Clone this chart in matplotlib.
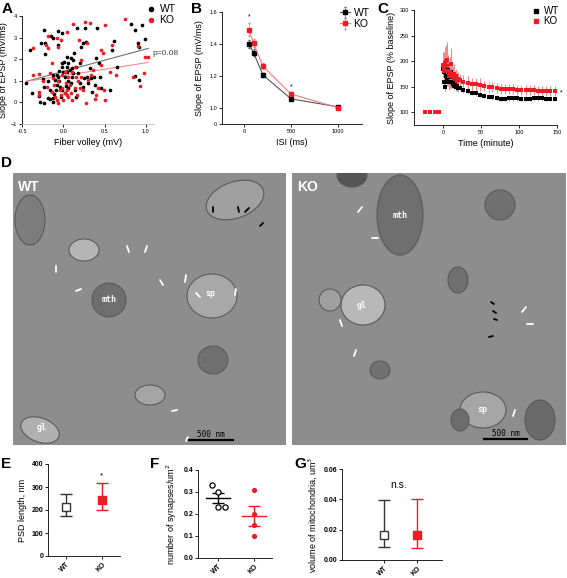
import matplotlib
matplotlib.use("Agg")
import matplotlib.pyplot as plt
from matplotlib.patches import Ellipse
import numpy as np

plt.rcParams['font.family'] = ['Liberation Sans', 'DejaVu Sans']

W, H = 567, 578
RED = '#ec1c24'
PINK = '#f4898c'

# ---------------- data ----------------
# Panel A: fiber volley vs slope
a_wt_x = [-0.45,-0.38,-0.40,-0.23,-0.27,-0.22,-0.22,-0.15,-0.12,-0.06,-0.02,-0.06,-0.24,-0.23,-0.23,-0.19,
          -0.18,-0.16,-0.12,-0.11,-0.10,-0.09,-0.08,-0.06,-0.05,-0.04,-0.03,-0.02,-0.01,0.00,0.01,0.02,
          0.03,0.04,0.05,0.06,0.06,0.08,0.09,0.10,0.11,0.12,0.13,0.14,0.15,0.16,0.17,0.18,0.20,0.22,
          0.24,0.26,0.25,0.27,0.29,0.30,0.32,0.34,0.35,0.37,0.39,0.40,0.41,0.43,0.44,0.46,0.57,0.59,
          0.62,0.65,0.82,0.87,0.87,0.95,0.91,0.92,0.99,0.92,-0.07,-0.05,-0.02,0.02,0.06,0.09,0.12,0.20,
          0.24,0.04,-0.13,-0.16,-0.29,-0.28,-0.13]
a_wt_y = [0.89,0.43,2.42,3.37,2.76,2.76,2.22,3.06,3.00,3.31,3.23,2.68,1.07,0.70,-0.03,0.20,
          0.97,0.15,0.01,0.38,1.04,0.58,0.81,1.19,1.47,0.73,0.27,1.81,1.65,1.42,1.88,1.19,
          0.76,1.65,1.42,1.81,0.97,1.50,2.04,1.57,1.19,1.96,2.27,0.58,1.65,0.27,3.46,1.34,1.81,2.57,
          2.76,3.46,1.11,2.80,1.16,0.89,1.57,1.11,0.50,1.19,0.81,2.04,3.46,1.81,1.19,0.65,0.58,2.42,
          2.85,1.65,3.65,3.34,1.24,3.57,2.76,2.57,2.93,1.04,1.27,0.97,0.58,0.43,0.65,0.89,1.34,0.89,
          0.73,2.12,1.27,0.58,0.30,0.04,0.20]
a_ko_x = [-0.37,-0.37,-0.29,-0.29,-0.24,-0.21,-0.19,-0.18,-0.14,-0.11,-0.07,-0.06,-0.03,-0.10,-0.07,-0.06,
          -0.03,-0.01,0.00,0.02,0.03,0.04,0.05,0.06,0.08,0.09,0.10,0.12,0.14,0.15,0.17,0.18,0.19,0.20,
          0.22,0.24,0.26,0.27,0.29,0.30,0.33,0.34,0.36,0.38,0.40,0.42,0.46,0.48,0.46,0.49,0.51,0.50,
          0.57,0.59,0.64,0.75,0.85,0.91,0.93,0.98,0.99,1.03,-0.16,-0.12,-0.06,-0.02,0.02,0.06,0.10,0.14,
          0.22,-0.20,-0.14,-0.04,0.04,-0.29]
a_ko_y = [2.50,1.27,1.31,0.50,0.97,2.68,3.06,2.50,1.81,0.81,2.96,2.57,2.91,0.27,0.12,-0.03,
          0.35,0.65,0.12,0.43,0.89,3.26,0.58,0.27,0.81,0.43,0.12,3.65,0.65,1.19,0.35,0.97,2.91,0.65,
          1.19,0.58,3.72,-0.03,2.76,1.04,3.68,1.27,1.50,0.15,0.35,0.65,2.42,2.27,1.73,0.58,3.57,0.12,
          1.42,2.65,1.27,3.88,1.19,2.60,0.76,1.35,2.11,2.08,1.34,1.11,0.97,1.27,1.42,1.19,1.42,1.65,
          1.96,0.73,0.50,0.58,0.35,0.35]
a_fit_x = [-0.45, 1.03]
a_fit_wt = [0.97, 2.50]
a_fit_ko = [0.97, 1.85]

# Panel B: paired-pulse
b_isi = [50, 100, 200, 500, 1000]
b_wt = [1.40, 1.345, 1.205, 1.055, 1.005]
b_wt_err = [0.025, 0.02, 0.015, 0.01, 0.005]
b_ko = [1.49, 1.405, 1.26, 1.085, 1.00]
b_ko_err = [0.04, 0.025, 0.02, 0.012, 0.005]
b_star_x = [50, 500]
b_star_y = [1.57, 1.13]

# Panel C: LTP time course
c_t_base = [-23, -17, -11, -5]
c_base = [100, 100, 100, 100]
c_t = list(range(0, 21)) + [22,27,33,38,44,49,54,60,65,71,76,81,87,92,98,103,109,114,120,125,130,136,141,147]
c_wt = [185,178,160,150,170,160,165,182,175,160,168,178,160,155,158,152,155,150,152,150,148,
        148,143,141,138,137,134,132,130,129,128,126,126,127,127,127,126,126,126,127,127,127,126,126,126]
c_wt_err = [8]*21 + [5]*24
c_ko = [193,181,188,197,200,191,202,181,171,178,195,171,172,168,175,167,165,170,162,165,165,
        163,160,158,155,155,154,152,150,149,147,145,145,145,145,144,144,143,143,143,141,141,141,141,141]
c_ko_err = [25,28,30,30,32,30,35,30,28,30,30,25,22,20,20,18,15,15,15,14,14] + [12]*6 + [10]*18

# Panel E-G
groups = ['WT', 'KO']
e_mean = [215, 242]
e_low = [172, 198]
e_high = [268, 318]
f_wt_pts = [0.33, 0.30, 0.23, 0.23]
f_ko_pts = [0.31, 0.20, 0.15, 0.10]
f_wt_jit = [-0.15, 0.0, 0.0, 0.2]
f_ko_jit = [0.0, 0.0, 0.0, 0.0]
f_mean = [0.272, 0.19]
f_sem = [0.023, 0.045]
g_mean = [0.0165, 0.0165]
g_low = [0.0085, 0.008]
g_high = [0.0395, 0.0405]

# ---------------- layout helpers ----------------
fig = plt.figure(figsize=(W/100, H/100), dpi=100)

def ax_px(x0, y0, x1, y1):
    return fig.add_axes([x0/W, 1-y1/H, (x1-x0)/W, (y1-y0)/H])

def letter(x, y, s):
    fig.text(x/W, 1-y/H, s, fontsize=11, fontweight='bold', va='top', ha='left')

def style(ax, tfs=4.5, bold=False):
    for s in ['top', 'right']:
        ax.spines[s].set_visible(False)
    for s in ['left', 'bottom']:
        ax.spines[s].set_linewidth(0.6)
    ax.tick_params(labelsize=tfs, width=0.6, length=2, pad=1.5)
    if bold:
        for lab in ax.get_yticklabels() + ax.get_xticklabels():
            lab.set_fontweight('bold')

# ---------------- Panel A ----------------
axA = ax_px(22, 16, 154, 124)
axA.scatter(a_wt_x, a_wt_y, s=7, c='black', linewidths=0, zorder=3)
axA.scatter(a_ko_x, a_ko_y, s=7, c=RED, linewidths=0, zorder=3)
axA.plot(a_fit_x, a_fit_wt, color='#707070', lw=0.8, zorder=2)
axA.plot(a_fit_x, a_fit_ko, color='#f08a8a', lw=0.8, zorder=2)
axA.set_xlim(-0.5, 1.1)
axA.set_ylim(-1, 4)
axA.set_xticks([-0.5, 0.0, 0.5, 1.0])
axA.set_xticklabels(['-0.5', '0.0', '0.5', '1.0'])
axA.set_yticks([-1, 0, 1, 2, 3, 4])
style(axA, 4)
axA.spines['bottom'].set_color('#bbbbbb')
axA.text(1.08, 2.27, 'p=0.08', fontsize=6, color='#444444', va='center', ha='left')
axA.set_xlabel('Fiber volley (mV)', fontsize=6.5, labelpad=3)
axA.set_ylabel('Slope of EPSP (mV/ms)', fontsize=6.5, labelpad=2)
axA.scatter([], [], s=9, c='black', label='WT')
axA.scatter([], [], s=9, c=RED, label='KO')
axA.legend(loc='upper left', bbox_to_anchor=(148/W, 1-4/H), bbox_transform=fig.transFigure,
           frameon=False, fontsize=7.5, handlelength=0.6, handletextpad=0.5, labelspacing=0.05,
           borderpad=0, borderaxespad=0)

# ---------------- Panel B ----------------
axB = ax_px(222, 12, 362, 124)
axB.errorbar(b_isi, b_wt, yerr=b_wt_err, color='#555555', marker='s', ms=3.2, mfc='black', mec='black',
             lw=0.8, elinewidth=0.5, capsize=1, label='WT', zorder=3)
axB.errorbar(b_isi, b_ko, yerr=b_ko_err, color='#f27a7e', marker='s', ms=3.2, mfc=RED, mec=RED,
             lw=0.8, elinewidth=0.5, capsize=1, label='KO', zorder=4)
for sx, sy in zip(b_star_x, b_star_y):
    axB.text(sx, sy, '*', fontsize=5, ha='center', va='center')
axB.set_xlim(-237, 1260)
axB.set_ylim(0.897, 1.6)
axB.set_xticks([0, 500, 1000])
axB.set_yticks([0.897, 1.0, 1.2, 1.4, 1.6])
axB.set_yticklabels(['0', '1.0', '1.2', '1.4', '1.6'])
style(axB, 4)
axB.set_xlabel('ISI (ms)', fontsize=6.5, labelpad=3)
axB.set_ylabel('Slope of EPSP (mV/ms)', fontsize=6.5, labelpad=4)
axB.legend(loc='upper left', bbox_to_anchor=(340/W, 1-8/H), bbox_transform=fig.transFigure,
           frameon=False, fontsize=7.5, handlelength=1.0, handletextpad=0.3, labelspacing=0.1,
           borderpad=0, borderaxespad=0)

# ---------------- Panel C ----------------
axC = ax_px(414, 10, 557, 125)
axC.errorbar(c_t, c_ko, yerr=c_ko_err, fmt='none', ecolor=PINK, elinewidth=0.8, zorder=2)
axC.errorbar(c_t, c_wt, yerr=c_wt_err, fmt='none', ecolor='#999999', elinewidth=0.6, zorder=2)
axC.plot(c_t, c_wt, 's', ms=2.4, color='black', mew=0, zorder=3)
axC.plot(c_t, c_ko, 's', ms=2.4, color=RED, mew=0, zorder=4)
axC.plot(c_t_base, c_base, 's', ms=2.4, color='black', mew=0, zorder=3)
axC.plot(c_t_base, c_base, 's', ms=2.4, color=RED, mew=0, zorder=4)
axC.set_xlim(-38, 150)
axC.set_ylim(75, 300)
axC.set_xticks([0, 50, 100, 150])
axC.set_yticks([100, 150, 200, 250, 300])
style(axC, 4)
axC.text(156, 137, '*', fontsize=5, ha='center', va='center', clip_on=False)
axC.set_xlabel('Time (minute)', fontsize=6.5, labelpad=3)
axC.set_ylabel('Slope of EPSP (% baseline)', fontsize=6.5, labelpad=3)
axC.plot([], [], 's', ms=3, color='black', label='WT')
axC.plot([], [], 's', ms=3, color=RED, label='KO')
axC.legend(loc='upper left', bbox_to_anchor=(533/W, 1-6/H), bbox_transform=fig.transFigure,
           frameon=False, fontsize=7, handlelength=0.6, handletextpad=0.5, labelspacing=0.05,
           borderpad=0, borderaxespad=0)

# ---------------- Panel D (EM images, schematic) ----------------
def em_panel(x0, y0, x1, y1, label, blobs, labels, white_marks, black_marks, bar):
    ax = ax_px(x0, y0, x1, y1)
    w, h = x1 - x0, y1 - y0
    ax.set_xlim(0, w)
    ax.set_ylim(h, 0)
    ax.set_facecolor('#8d8d8d')
    for (cx, cy, ew, eh, ang, col) in blobs:
        ax.add_patch(Ellipse((cx - x0, cy - y0), ew, eh, angle=ang, facecolor=col,
                             edgecolor='#5a5a5a', lw=0.8))
    ax.text(5, 7, label, color='white', fontsize=10, fontweight='bold', va='top', ha='left')
    for (tx, ty, s) in labels:
        ax.text(tx - x0, ty - y0, s, color='white', fontsize=6, family='DejaVu Sans Mono',
                fontweight='bold', ha='center', va='center')
    for (mx, my, dx, dy) in white_marks:
        ax.plot([mx - x0, mx - x0 + dx], [my - y0, my - y0 + dy], color='white', lw=1.3,
                solid_capstyle='round')
    for (mx, my, dx, dy) in black_marks:
        ax.plot([mx - x0, mx - x0 + dx], [my - y0, my - y0 + dy], color='black', lw=1.3,
                solid_capstyle='round')
    bx0, bx1, by = bar
    ax.plot([bx0 - x0, bx1 - x0], [by - y0, by - y0], color='black', lw=1.6)
    ax.text((bx0 + bx1) / 2 - x0, by - y0 - 1, '500 nm', fontsize=5.5, color='black',
            ha='center', va='bottom', family='DejaVu Sans Mono')
    ax.set_xticks([])
    ax.set_yticks([])
    for s in ax.spines.values():
        s.set_visible(False)
    return ax

em_panel(13, 173, 286, 445, 'WT',
         blobs=[(109, 300, 34, 34, 0, '#6e6e6e'), (212, 296, 50, 44, 0, '#a8a8a8'),
                (84, 250, 30, 22, 0, '#b5b5b5'), (40, 430, 40, 24, 20, '#b0b0b0'),
                (213, 360, 30, 28, 0, '#707070'), (235, 200, 60, 36, -20, '#a0a0a0'),
                (150, 395, 30, 20, 0, '#a5a5a5'), (30, 220, 30, 50, 0, '#7c7c7c')],
         labels=[(109, 300, 'mth'), (210, 294, 'sp'), (42, 427, 'gl')],
         white_marks=[(56, 266, 0, 6), (76, 291, 5, -2), (127, 246, 2, 6), (147, 246, -2, 6),
                      (160, 280, 3, 5), (186, 275, -1, 7), (196, 293, 4, 4), (236, 289, -1, 6),
                      (172, 411, 5, -1), (186, 441, 2, -4)],
         black_marks=[(213, 207, 0, 5), (238, 207, 1, 5), (245, 212, 4, -4), (260, 226, 3, -3)],
         bar=(189, 233, 440))

em_panel(292, 173, 566, 445, 'KO',
         blobs=[(400, 215, 46, 80, 0, '#6f6f6f'), (363, 305, 44, 40, 0, '#b8b8b8'),
                (352, 175, 30, 24, 0, '#555555'), (500, 205, 30, 30, 0, '#707070'),
                (458, 280, 20, 26, 0, '#707070'), (330, 300, 22, 22, 0, '#a0a0a0'),
                (483, 410, 46, 36, 0, '#a6a6a6'), (540, 420, 30, 40, 0, '#6a6a6a'),
                (380, 370, 20, 18, 0, '#707070'), (460, 420, 18, 22, 0, '#6c6c6c')],
         labels=[(400, 216, 'mth'), (362, 305, 'gl'), (482, 410, 'sp')],
         white_marks=[(358, 212, 4, -5), (372, 238, 6, 0), (522, 312, 4, -5), (527, 324, 6, 0),
                      (513, 416, 2, -6), (340, 320, 2, 6), (356, 350, -2, 6)],
         black_marks=[(491, 302, 3, 2), (493, 311, 3, 2), (494, 319, 3, 1), (489, 337, 4, -1)],
         bar=(484, 527, 439))

# ---------------- Panel E ----------------
axE = ax_px(48, 464, 120, 556)
x = [0, 1]
axE.errorbar([0], [e_mean[0]], yerr=[[e_mean[0]-e_low[0]], [e_high[0]-e_mean[0]]], fmt='s',
             ms=6, mfc='white', mec='#333333', mew=1, ecolor='#333333', elinewidth=1, capsize=4, capthick=1)
axE.errorbar([1], [e_mean[1]], yerr=[[e_mean[1]-e_low[1]], [e_high[1]-e_mean[1]]], fmt='s',
             ms=6, mfc=RED, mec=RED, ecolor=RED, elinewidth=1, capsize=4, capthick=1)
axE.text(1, 350, '*', fontsize=6, ha='center', va='center')
axE.set_xlim(-0.5, 1.5)
axE.set_ylim(0, 400)
axE.set_yticks([0, 100, 200, 300, 400])
axE.set_xticks(x)
axE.set_xticklabels(groups, rotation=45, ha='right', rotation_mode='anchor')
style(axE, 5, bold=True)
axE.set_ylabel('PSD length, nm', fontsize=6.5, labelpad=3)

# ---------------- Panel F ----------------
axF = ax_px(198, 470, 272, 558)
axF.scatter([0 + j for j in f_wt_jit], f_wt_pts, s=14, facecolors='white', edgecolors='black',
            linewidths=0.9, zorder=3)
axF.scatter([1 + j for j in f_ko_jit], f_ko_pts, s=14, c=RED, linewidths=0, zorder=3)
for i, col in enumerate(['black', RED]):
    axF.plot([i - 0.33, i + 0.33], [f_mean[i], f_mean[i]], color=col, lw=1, zorder=2)
    axF.errorbar([i], [f_mean[i]], yerr=[f_sem[i]], fmt='none', ecolor=col, elinewidth=1,
                 capsize=4, capthick=1, zorder=2)
axF.set_xlim(-0.55, 1.5)
axF.set_ylim(0, 0.4)
axF.set_yticks([0.0, 0.1, 0.2, 0.3, 0.4])
axF.set_xticks(x)
axF.set_xticklabels(groups, rotation=45, ha='right', rotation_mode='anchor')
style(axF, 5, bold=True)
axF.set_ylabel('number of synapses/um$^2$', fontsize=6.5, labelpad=3)

# ---------------- Panel G ----------------
axG = ax_px(342, 469, 442, 560)
axG.errorbar([0], [g_mean[0]], yerr=[[g_mean[0]-g_low[0]], [g_high[0]-g_mean[0]]], fmt='s',
             ms=6, mfc='white', mec='#333333', mew=1, ecolor='#333333', elinewidth=1, capsize=4, capthick=1)
axG.errorbar([1], [g_mean[1]], yerr=[[g_mean[1]-g_low[1]], [g_high[1]-g_mean[1]]], fmt='s',
             ms=6, mfc=RED, mec=RED, ecolor=RED, elinewidth=1, capsize=4, capthick=1)
axG.text(0.45, 0.0495, 'n.s.', fontsize=7.5, ha='center', va='center')
axG.set_xlim(-1.27, 1.76)
axG.set_ylim(0, 0.06)
axG.set_yticks([0.00, 0.02, 0.04, 0.06])
axG.set_yticklabels(['0.00', '0.02', '0.04', '0.06'])
axG.set_xticks(x)
axG.set_xticklabels(groups, rotation=45, ha='right', rotation_mode='anchor')
style(axG, 5, bold=True)
axG.set_ylabel('volume of mitochondria, um$^3$', fontsize=6.5, labelpad=3)

# ---------------- panel letters ----------------
letter(2, 2, 'A')
letter(191, 2, 'B')
letter(377, 2, 'C')
letter(1, 156, 'D')
letter(1, 457, 'E')
letter(150, 457, 'F')
letter(294, 457, 'G')

fig.savefig('out.png', dpi=100)
